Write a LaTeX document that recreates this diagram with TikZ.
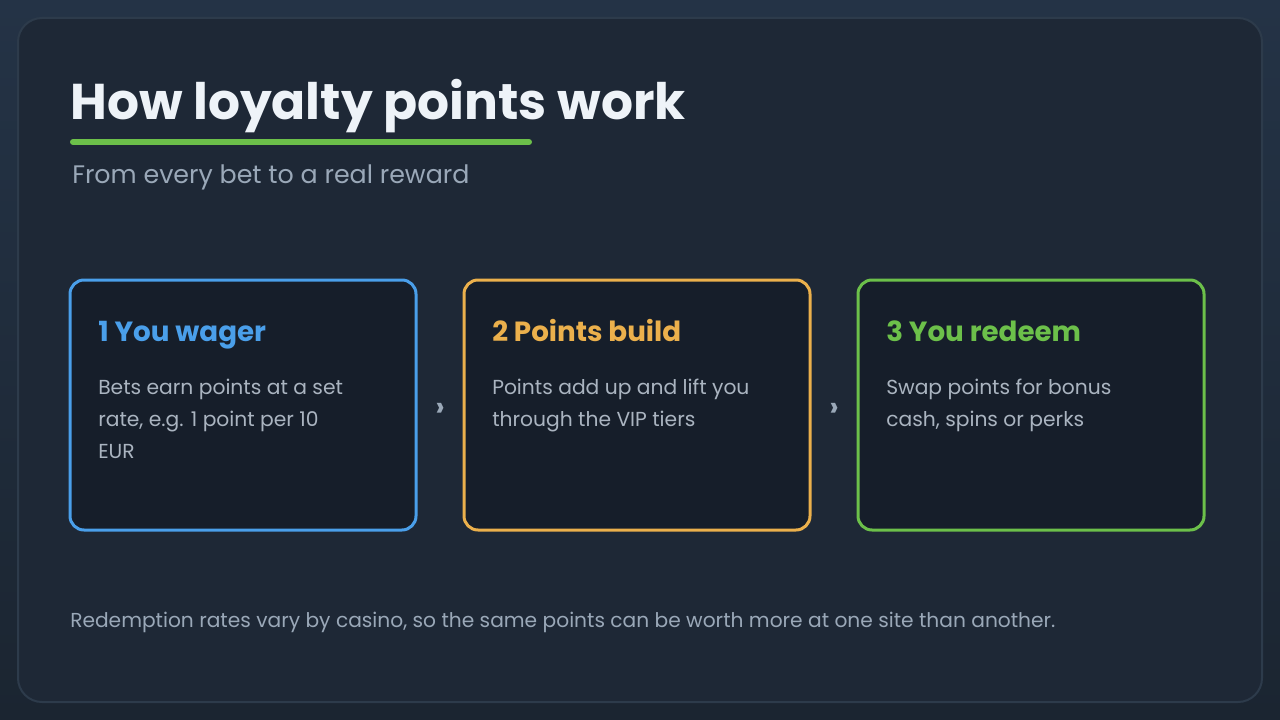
\documentclass[tikz,border=0pt]{standalone}
\usepackage{fontspec}
\setmainfont{Poppins}
\definecolor{bgtop}{HTML}{243346}
\definecolor{bgbot}{HTML}{1B2531}
\definecolor{panel}{HTML}{1E2836}
\definecolor{panelline}{HTML}{2D3B4B}
\definecolor{cardfill}{HTML}{161E2A}
\definecolor{cblue}{HTML}{4A9FEA}
\definecolor{corange}{HTML}{EBB04C}
\definecolor{cgreen}{HTML}{6CC04A}
\definecolor{titlec}{HTML}{EEF3F8}
\definecolor{subc}{HTML}{9AA8B8}
\definecolor{bodyc}{HTML}{AAB4C0}
\tikzset{
  card/.style={draw=#1, line width=2.25pt, fill=cardfill, rounded corners=10.5pt},
  cardtitle/.style={anchor=base west, inner sep=0pt, text=#1, font=\bfseries\fontsize{20.8}{24}\selectfont},
  cardbody/.style={anchor=base west, inner sep=0pt, text=bodyc, align=left, font=\fontsize{15.2}{24}\selectfont},
  chev/.style={inner sep=0pt, text=subc, font=\bfseries\fontsize{21}{21}\selectfont}
}
\begin{document}
\begin{tikzpicture}[x=0.75pt,y=-0.75pt]
\useasboundingbox (0,0) rectangle (1280,720);
\shade[top color=bgtop, bottom color=bgbot] (0,0) rectangle (1280,720);
\draw[panelline, line width=1.5pt, fill=panel, rounded corners=18pt] (18,18) rectangle (1262,702);
% title
\node[anchor=base west, inner sep=0pt, text=titlec, font=\bfseries\fontsize{37.7}{42}\selectfont] (title) at (70,120) {How loyalty points work};
\coordinate (ul1) at (73,142);
\coordinate (ul2) at (529,142);
\draw[cgreen, line width=4.5pt, line cap=round] (ul1) -- (ul2);
\node[anchor=base west, inner sep=0pt, text=subc, font=\fontsize{19}{22}\selectfont] (sub) at (72,184) {From every bet to a real reward};
% cards
\draw[card=cblue] (70,280) rectangle (416,530);
\draw[card=corange] (464,280) rectangle (810,530);
\draw[card=cgreen] (858,280) rectangle (1204,530);
\node[cardtitle=cblue] (t1) at (98,341) {1 You wager};
\node[cardtitle=corange] (t2) at (492,341) {2 Points build};
\node[cardtitle=cgreen] (t3) at (886,341) {3 You redeem};
% base anchor of a multi-line node is the last line's baseline
\node[cardbody] (b1) at (98,458) {Bets earn points at a set\\rate, e.g. 1 point per 10\\EUR};
\node[cardbody] (b2) at (492,426) {Points add up and lift you\\through the VIP tiers};
\node[cardbody] (b3) at (886,426) {Swap points for bonus\\cash, spins or perks};
\node[chev] (c1) at (440,410) {›};
\node[chev] (c2) at (834,410) {›};
% footer
\node[anchor=base west, inner sep=0pt, text=subc, font=\fontsize{15.15}{18}\selectfont] (foot) at (70,627) {Redemption rates vary by casino, so the same points can be worth more at one site than another.};
\end{tikzpicture}
\end{document}
